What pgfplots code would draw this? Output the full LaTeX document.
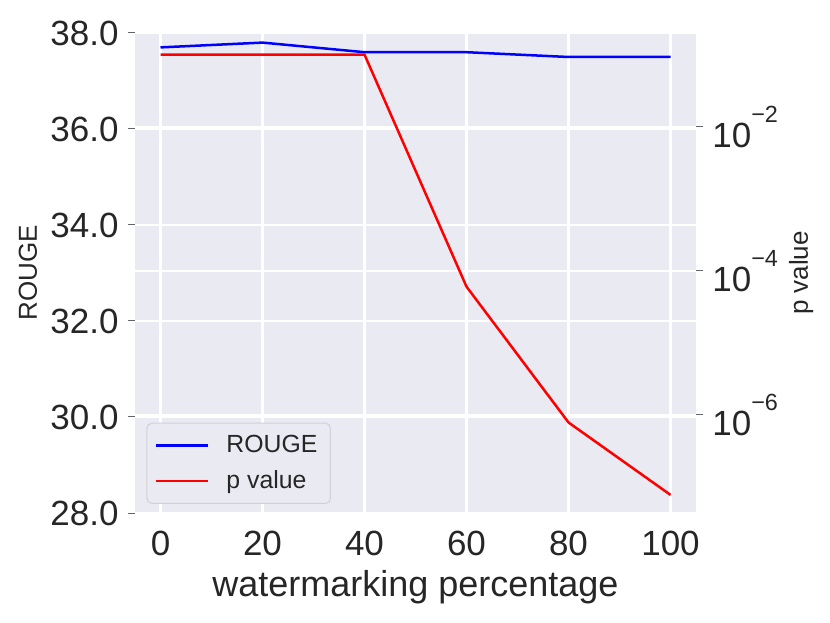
\documentclass[border=0pt]{standalone}
\usepackage{fontspec}
\setmainfont{Liberation Sans}
\usepackage{pgfplots}
\pgfplotsset{compat=1.18}
\definecolor{bg}{HTML}{EAEAF2}
\definecolor{txt}{HTML}{262626}
\definecolor{legedge}{HTML}{D0D0D6}
\begin{document}
\begin{tikzpicture}
\path[use as bounding box] (-67.5bp,-55bp) rectangle (347.5bp,256.5bp);
\begin{axis}[
  scale only axis, width=280.5bp, height=240bp,
  xmin=-5, xmax=105, ymin=28, ymax=38,
  axis background/.style={fill=bg},
  axis line style={draw=none},
  xtick={0,20,40,60,80,100}, ytick={28,30,32,34,36,38},
  xtick pos=bottom, ytick pos=left,
  xmajorgrids, ymajorgrids,
  major grid style={white, line width=1.1bp},
  tick align=outside, major tick length=3.5bp,
  xtick style={draw=none},
  ytick style={color=black!60, line width=0.5bp},
  /pgf/number format/assume math mode=true,
  yticklabel style={/pgf/number format/fixed, /pgf/number format/fixed zerofill, /pgf/number format/precision=1},
  ticklabel style={font=\fontsize{17.5bp}{20bp}\selectfont, text=txt},
  xticklabel style={anchor=base, inner sep=0pt, yshift=-17.5bp},
  yticklabel style={anchor=east, inner sep=0pt, xshift=-4.5bp},
  every axis y label/.style={at={(axis description cs:-0.1747,0.5)}, rotate=90, anchor=base},
  every axis x label/.style={at={(axis description cs:0.5,-0.174)}, anchor=base},
  ylabel={ROUGE}, xlabel={watermarking percentage},
  ylabel style={font=\fontsize{13bp}{15bp}\selectfont, text=txt},
  xlabel style={font=\fontsize{18bp}{21bp}\selectfont, text=txt},
]
\addplot[blue, line width=1.25bp] coordinates {(0,37.7) (20,37.8) (40,37.6) (60,37.6) (80,37.5) (100,37.5)};
\end{axis}
\begin{axis}[
  scale only axis, width=280.5bp, height=240bp,
  xmin=-5, xmax=105, ymode=log, ymin=4.315e-8, ymax=0.1995,
  axis x line=none, axis y line*=right,
  axis line style={draw=none},
  ytick={1e-2,1e-4,1e-6},
  yticklabels={10\raisebox{12.5bp}{\fontsize{11.7bp}{12bp}\selectfont −2},
               10\raisebox{12.5bp}{\fontsize{11.7bp}{12bp}\selectfont −4},
               10\raisebox{12.5bp}{\fontsize{11.7bp}{12bp}\selectfont −6}},
  ymajorgrids, major grid style={white, line width=1.1bp},
  minor tick num=0,
  tick align=outside, major tick length=3.5bp,
  ytick style={color=black!60, line width=0.5bp},
  ticklabel style={font=\fontsize{17.5bp}{20bp}\selectfont, text=txt},
  yticklabel style={anchor=west, inner sep=0pt, xshift=4.5bp},
  every axis y label/.style={at={(axis description cs:1.1996,0.5)}, rotate=90, anchor=base},
  ylabel={p value},
  ylabel style={font=\fontsize{13bp}{15bp}\selectfont, text=txt},
  legend cell align=left,
  legend image code/.code={\draw[#1, line width=1.25bp] (0bp,0bp) -- (26bp,0bp);},
  legend style={at={(axis description cs:0.0205,0.0188)}, anchor=south west,
    fill=bg, draw=legedge, rounded corners=2.5bp, line width=0.5bp,
    font=\fontsize{12.4bp}{14bp}\selectfont, text=txt,
    inner xsep=4bp, inner ysep=3.5bp, row sep=2.5bp, column sep=6bp,
    nodes={inner sep=2.5bp}},
]
\addlegendimage{blue}
\addlegendentry{ROUGE}
\addplot[red, line width=1.25bp] coordinates {(0,0.1) (20,0.1) (40,0.1) (60,6.0e-5) (80,7.8e-7) (100,7.7e-8)};
\addlegendentry{p value}
\end{axis}
\end{tikzpicture}
\end{document}
